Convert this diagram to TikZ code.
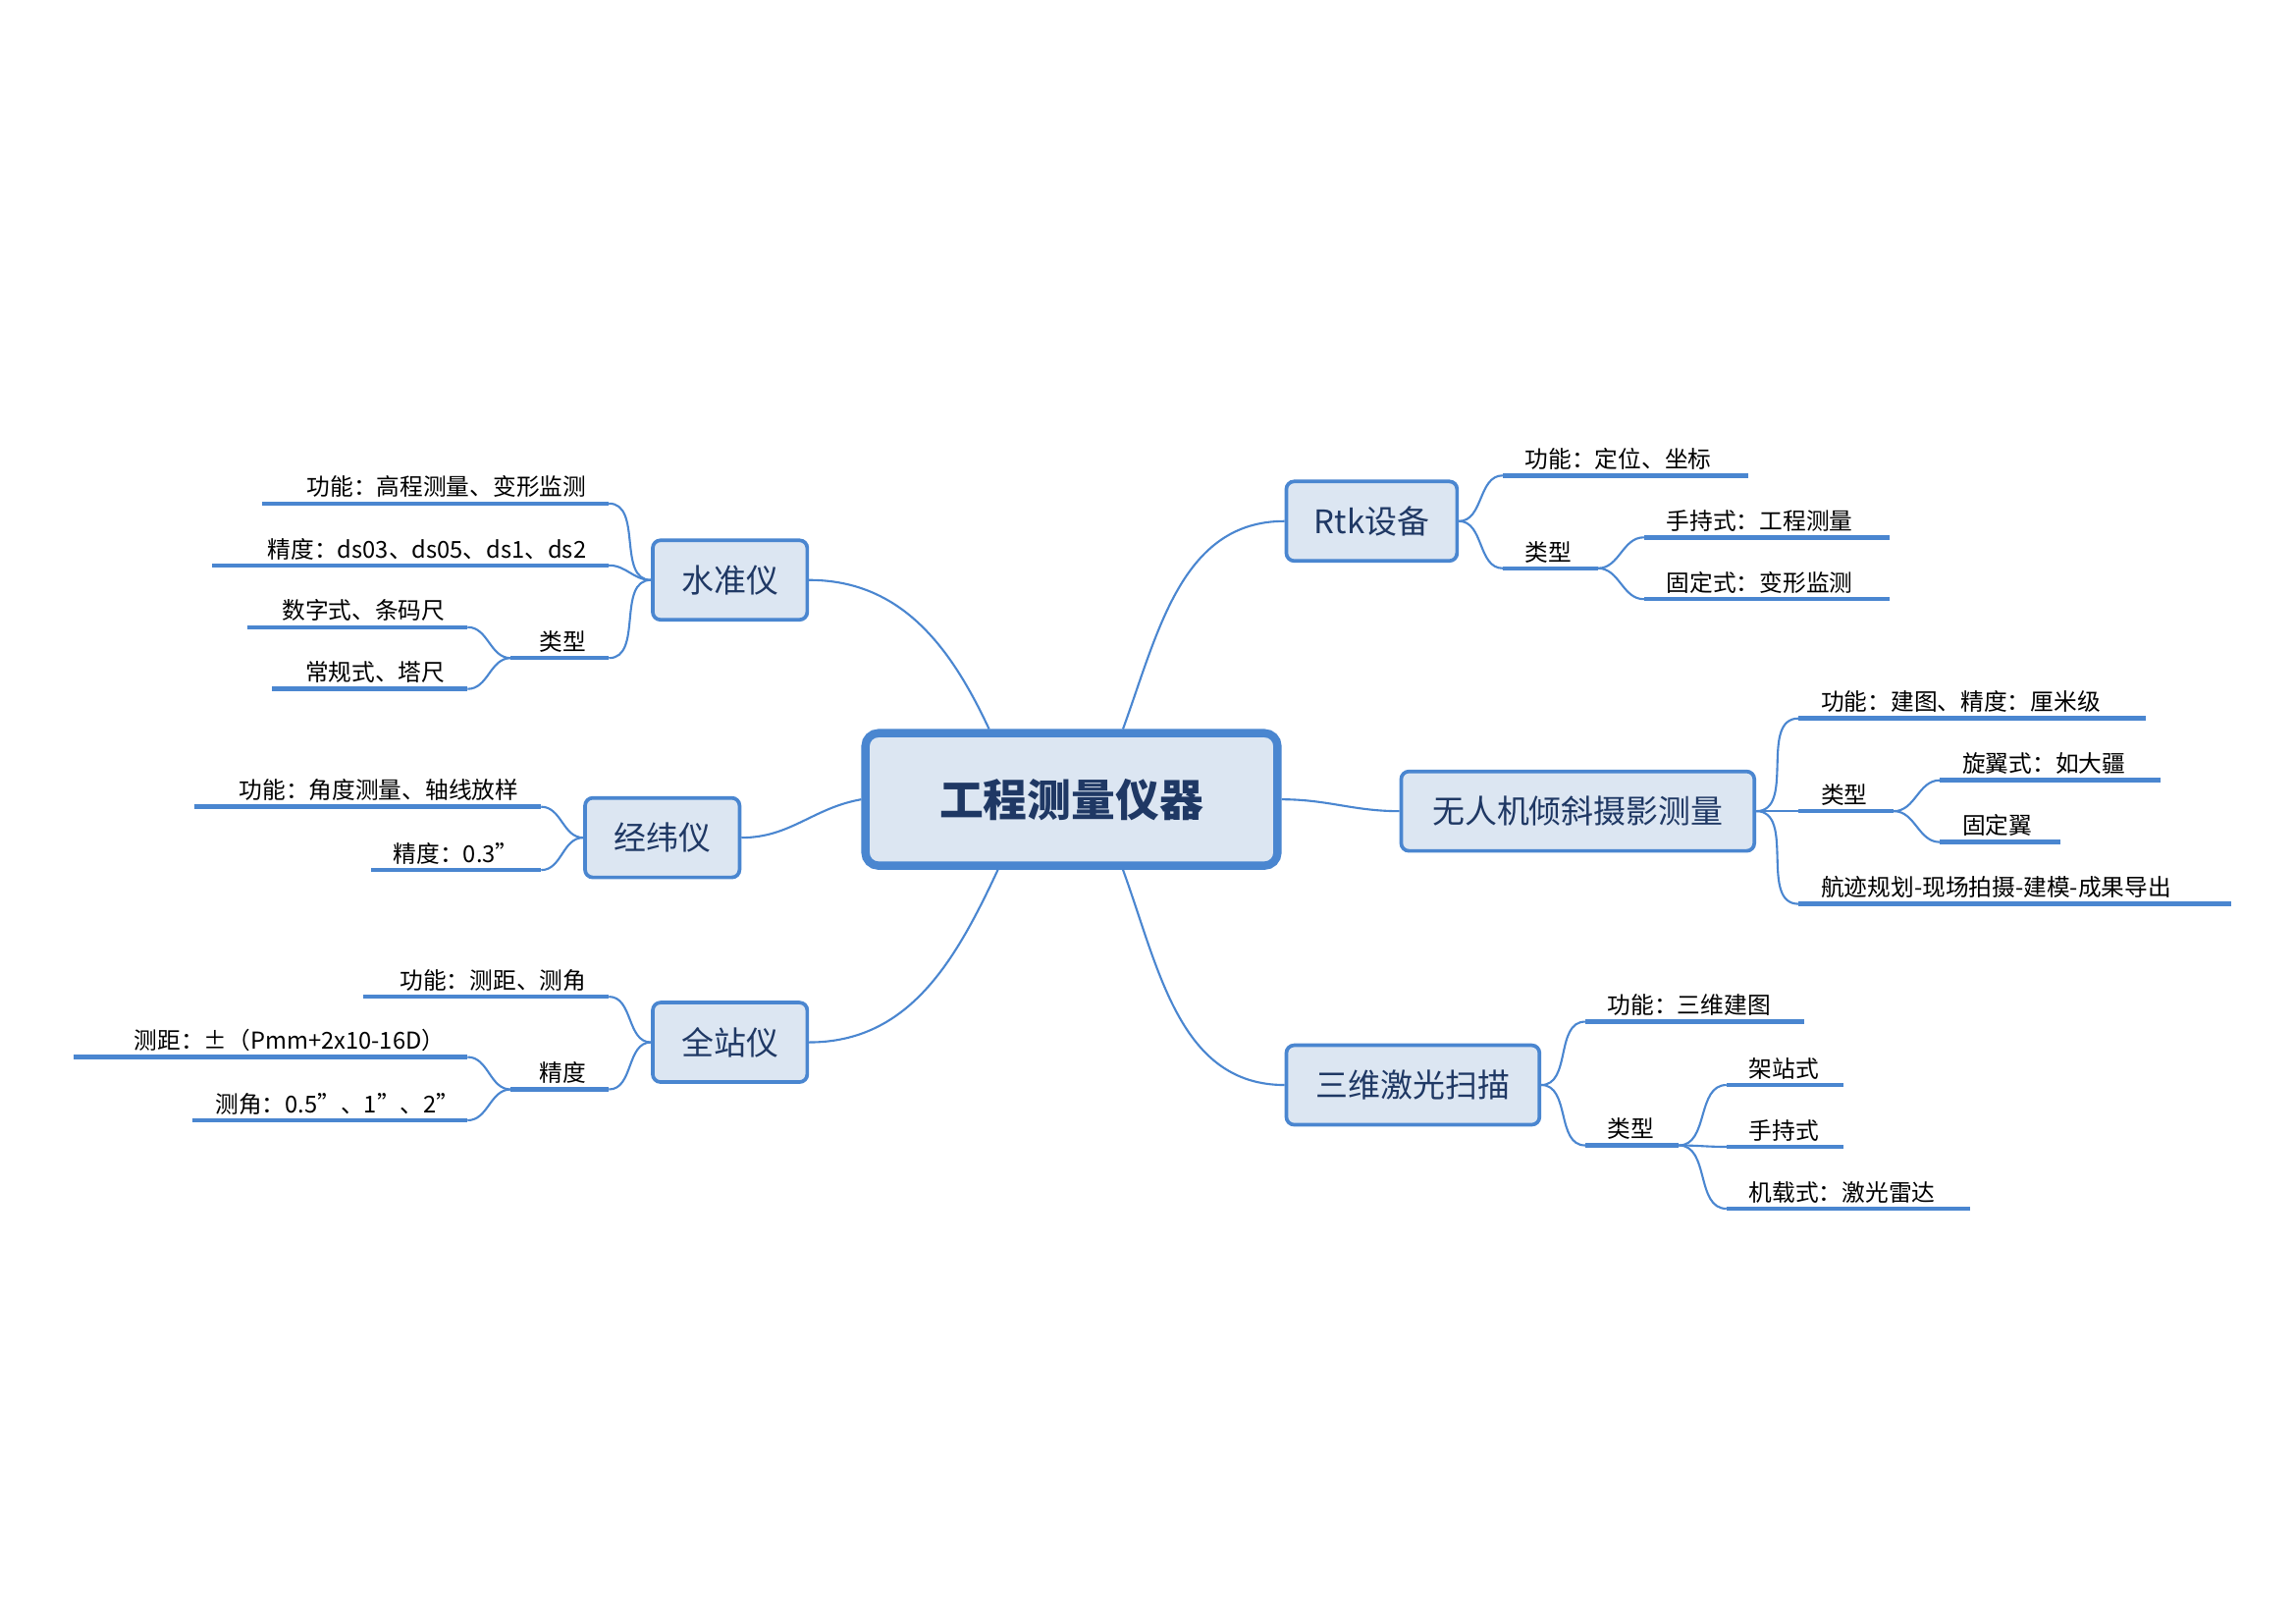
\documentclass[tikz,border=0pt]{standalone}
\usepackage{fontspec}
\setmainfont{Noto Sans CJK SC}
\definecolor{lc}{HTML}{4A86D0}
\definecolor{boxfill}{HTML}{DCE6F2}
\definecolor{boxtext}{HTML}{1F3864}
\tikzset{
  root/.style={draw=lc, line width=3.2pt, fill=boxfill, rounded corners=5pt,
    minimum width=5.6cm, minimum height=1.8cm, font=\fontsize{17}{20}\selectfont\bfseries, text=boxtext},
  topic/.style={draw=lc, line width=1.4pt, fill=boxfill, rounded corners=3pt,
    minimum height=1.08cm, font=\fontsize{12.5}{15}\selectfont, text=boxtext},
  leaf/.style={inner xsep=0.3cm, inner ysep=2pt, font=\fontsize{9}{11}\selectfont,
    append after command={(\tikzlastnode.south west) edge[uline] (\tikzlastnode.south east)}},
  leafL/.style={leaf, anchor=south west, align=right},
  leafR/.style={leaf, anchor=south west, align=left},
  uline/.style={draw=lc, line width=1.7pt},
  link/.style={draw=lc, line width=0.8pt},
}
\begin{document}
\begin{tikzpicture}[x=0.02cm, y=-0.02cm]
    \useasboundingbox (0,0) rectangle (1560,1103);

    % center and main topics
    \node[root] (c) at (728,543) {工程测量仪器};
    \node[topic, minimum width=2.1cm] (szy) at (496,394) {水准仪};
    \node[topic, minimum width=2.1cm] (jwy) at (450,569) {经纬仪};
    \node[topic, minimum width=2.1cm] (qzy) at (496,708) {全站仪};
    \node[topic, minimum width=2.32cm] (rtk) at (932,354) {Rtk设备};
    \node[topic, minimum width=4.8cm] (wrj) at (1072,551) {无人机倾斜摄影测量};
    \node[topic, minimum width=3.44cm] (jg) at (960,737) {三维激光扫描};

    \draw[link] ([xshift=-1.12cm]c.north) to[out=115,in=0] (szy.east);
    \draw[link] (c.west) to[out=190,in=0] (jwy.east);
    \draw[link] ([xshift=-1.0cm]c.south) to[out=-115,in=0] (qzy.east);
    \draw[link] ([xshift=0.7cm]c.north) to[out=70,in=180] (rtk.west);
    \draw[link] (c.east) to[out=0,in=180] (wrj.west);
    \draw[link] ([xshift=0.7cm]c.south) to[out=-70,in=180] (jg.west);

    % 水准仪
    \node[leafL, text width=4.1cm] (s1) at (178,342) {功能：高程测量、变形监测};
    \node[leafL, text width=4.78cm] (s2) at (144,384) {精度：ds03、ds05、ds1、ds2};
    \node[leafL, text width=0.72cm] (s3) at (347,447) {类型};
    \node[leafL, text width=2.38cm] (s31) at (168,426) {数字式、条码尺};
    \node[leafL, text width=2.04cm] (s32) at (185,468) {常规式、塔尺};
    \foreach \n in {s1,s2,s3} \draw[link] (szy.west) to[out=180,in=0] (\n.south east);
    \foreach \n in {s31,s32} \draw[link] (s3.south west) to[out=180,in=0] (\n.south east);

    % 经纬仪
    \node[leafL, text width=4.1cm] (j1) at (132,548) {功能：角度测量、轴线放样};
    \node[leafL, text width=1.7cm] (j2) at (252,591) {精度：0.3''};
    \foreach \n in {j1,j2} \draw[link] (jwy.west) to[out=180,in=0] (\n.south east);

    % 全站仪
    \node[leafL, text width=2.72cm] (q1) at (247,677) {功能：测距、测角};
    \node[leafL, text width=0.72cm] (q2) at (347,740) {精度};
    \node[leafL, text width=4.74cm] (q21) at (50,718) {测距：±（Pmm+2x10-16D）};
    \node[leafL, text width=3.12cm] (q22) at (131,761) {测角：0.5''、1''、2''};
    \foreach \n in {q1,q2} \draw[link] (qzy.west) to[out=180,in=0] (\n.south east);
    \foreach \n in {q21,q22} \draw[link] (q2.south west) to[out=180,in=0] (\n.south east);

    % Rtk设备
    \node[leafR, text width=2.72cm] (r1) at (1021,323) {功能：定位、坐标};
    \node[leafR, text width=0.68cm] (r2) at (1021,386) {类型};
    \node[leafR, text width=2.72cm] (r21) at (1117,365) {手持式：工程测量};
    \node[leafR, text width=2.72cm] (r22) at (1117,407) {固定式：变形监测};
    \foreach \n in {r1,r2} \draw[link] (rtk.east) to[out=0,in=180] (\n.south west);
    \foreach \n in {r21,r22} \draw[link] (r2.south east) to[out=0,in=180] (\n.south west);

    % 无人机倾斜摄影测量
    \node[leafR, text width=4.1cm] (w1) at (1222,488) {功能：建图、精度：厘米级};
    \node[leafR, text width=0.68cm] (w2) at (1222,551) {类型};
    \node[leafR, text width=2.38cm] (w21) at (1318,530) {旋翼式：如大疆};
    \node[leafR, text width=1.02cm] (w22) at (1318,572) {固定翼};
    \node[leafR, text width=5.26cm] (w3) at (1222,614) {航迹规划-现场拍摄-建模-成果导出};
    \foreach \n in {w1,w2,w3} \draw[link] (wrj.east) to[out=0,in=180] (\n.south west);
    \foreach \n in {w21,w22} \draw[link] (w2.south east) to[out=0,in=180] (\n.south west);

    % 三维激光扫描
    \node[leafR, text width=2.36cm] (l1) at (1077,694) {功能：三维建图};
    \node[leafR, text width=0.66cm] (l2) at (1077,778) {类型};
    \node[leafR, text width=0.98cm] (l21) at (1173,737) {架站式};
    \node[leafR, text width=0.98cm] (l22) at (1173,779) {手持式};
    \node[leafR, text width=2.7cm] (l23) at (1173,821) {机载式：激光雷达};
    \foreach \n in {l1,l2} \draw[link] (jg.east) to[out=0,in=180] (\n.south west);
    \foreach \n in {l21,l22,l23} \draw[link] (l2.south east) to[out=0,in=180] (\n.south west);
\end{tikzpicture}
\end{document}
